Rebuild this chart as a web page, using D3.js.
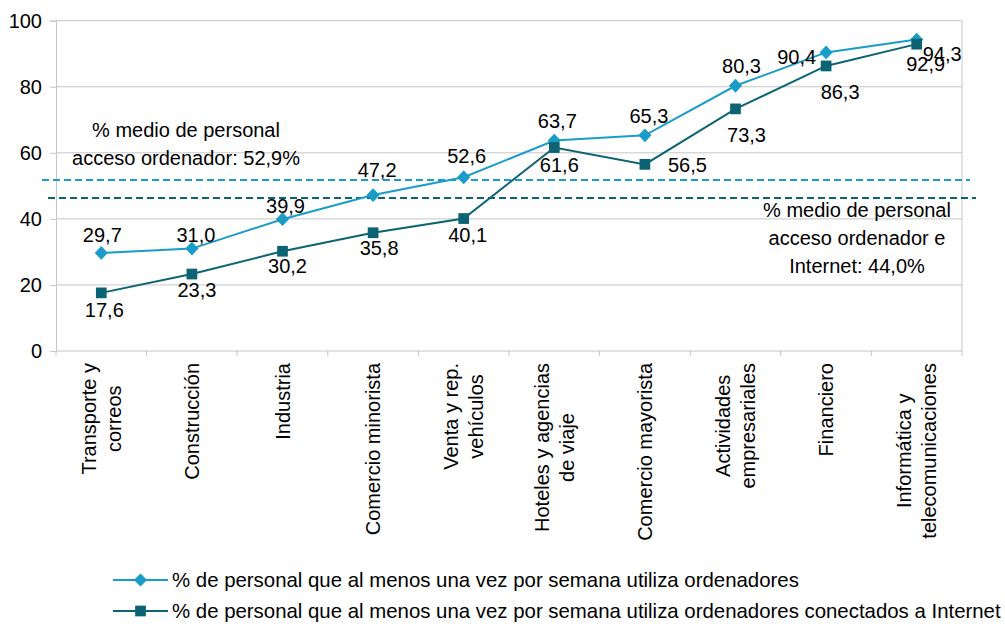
<!DOCTYPE html>
<html>
<head>
<meta charset="utf-8">
<script src="https://cdn.jsdelivr.net/npm/d3@7"></script>
<style>
  html, body { margin: 0; padding: 0; background: #fff; }
  svg { display: block; font-family: "Liberation Sans", Arial, sans-serif; }
</style>
</head>
<body>
<svg id="chart" width="1005" height="626"></svg>
<script>
// ---------- data ----------
const categories = [
  ["Transporte y", "correos"],
  ["Construcción"],
  ["Industria"],
  ["Comercio minorista"],
  ["Venta y rep.", "vehículos"],
  ["Hoteles y agencias", "de viaje"],
  ["Comercio mayorista"],
  ["Actividades", "empresariales"],
  ["Financiero"],
  ["Informática y", "telecomunicaciones"]
];
const seriesNames = [
  "% de personal que al menos una vez por semana utiliza ordenadores",
  "% de personal que al menos una vez por semana utiliza ordenadores conectados a Internet"
];
const computerUse = [29.7, 31.0, 39.9, 47.2, 52.6, 63.7, 65.3, 80.3, 90.4, 94.3];
const internetUse = [17.6, 23.3, 30.2, 35.8, 40.1, 61.6, 56.5, 73.3, 86.3, 92.9];
const yTicks = [0, 20, 40, 60, 80, 100];
const averageLines = [51.8, 46.3];
const averageNotes = [
  ["% medio de personal", "acceso ordenador: 52,9%"],
  ["% medio de personal", "acceso ordenador e", "Internet: 44,0%"]
];

// ---------- layout / style (not data) ----------
const colors = ["#1a9cc9", "#0b6373"];
const fontSize = 20;
const legendFontSize = 20.4;
const plot = { left: 56, right: 962, top: 20.7, bottom: 351 };
// label offsets relative to marker: [dx, dy(baseline), anchor]
const labelOffsets = [
  [[1,-11],[4,-7],[3,-6],[4,-18],[3,-14],[3,-13],[4,-12],[6,-13],[-10,12,"end"],[6,21,"start"]],
  [[3,24],[5,23],[5,22],[6,22],[4,23],[5,24.5],[23,7.6,"start"],[11,33],[14,33],[9,27]]
];
const avgLineExtent = [[42, 970], [48, 976]];
const notePos = [{x: 186, y: 137}, {x: 857, y: 217}];
const noteLineH = [28, 28];

const svg = d3.select("#chart");
const x = d3.scaleBand().domain(d3.range(categories.length)).range([plot.left, plot.right]);
const y = d3.scaleLinear().domain([0, 100]).range([plot.bottom, plot.top]);
const cx = i => x(i) + x.bandwidth() / 2;

// gridlines
svg.append("g").selectAll("line").data(yTicks.filter(t => t > 0)).join("line")
  .attr("x1", plot.left).attr("x2", plot.right)
  .attr("y1", d => y(d)).attr("y2", d => y(d))
  .attr("stroke", "#c6c6c6").attr("stroke-width", 1);
// right border
svg.append("line").attr("x1", plot.right).attr("x2", plot.right)
  .attr("y1", y(100)).attr("y2", plot.bottom).attr("stroke", "#c6c6c6");

// y axis
const yAxis = svg.append("g").attr("transform", `translate(${plot.left},0)`)
  .call(d3.axisLeft(y).tickValues(yTicks).tickSize(6).tickPadding(8).tickFormat(d3.format("d")));
yAxis.select(".domain").attr("stroke", "#c6c6c6");
yAxis.selectAll(".tick line").attr("stroke", "#c6c6c6");
yAxis.selectAll("text").attr("font-size", fontSize).attr("fill", "#000")
  .attr("font-family", "Liberation Sans, Arial, sans-serif");

// x axis (ticks at category boundaries)
const xAxisG = svg.append("g").attr("transform", `translate(0,${plot.bottom})`);
xAxisG.append("line").attr("x1", plot.left).attr("x2", plot.right).attr("stroke", "#c6c6c6");
xAxisG.selectAll("line.tk").data(d3.range(categories.length + 1)).join("line").attr("class", "tk")
  .attr("x1", i => plot.left + i * x.bandwidth()).attr("x2", i => plot.left + i * x.bandwidth())
  .attr("y1", 0).attr("y2", 5).attr("stroke", "#c6c6c6");

// category labels, rotated
const labelTop = 363, lineH = 25;
categories.forEach((lines, i) => {
  const g = svg.append("g");
  const t = g.append("text").attr("font-size", fontSize).attr("text-anchor", "middle").attr("fill", "#000");
  lines.forEach((ln, k) => {
    t.append("tspan").attr("x", 0)
      .attr("y", (k - (lines.length - 1) / 2) * lineH + 0.35 * fontSize)
      .text(ln);
  });
  let maxW = 0;
  t.selectAll("tspan").each(function() { maxW = Math.max(maxW, this.getComputedTextLength()); });
  g.attr("transform", `translate(${cx(i)},${labelTop + maxW / 2}) rotate(-90)`);
});

// average dashed lines
averageLines.forEach((v, k) => {
  svg.append("line")
    .attr("x1", avgLineExtent[k][0]).attr("x2", avgLineExtent[k][1])
    .attr("y1", y(v)).attr("y2", y(v))
    .attr("stroke", colors[k]).attr("stroke-width", 2)
    .attr("stroke-dasharray", "7,4");
});
averageNotes.forEach((lines, k) => {
  const t = svg.append("text").attr("font-size", fontSize).attr("text-anchor", "middle").attr("fill", "#000");
  lines.forEach((ln, j) => {
    t.append("tspan").attr("x", notePos[k].x).attr("y", notePos[k].y + j * noteLineH[k]).text(ln);
  });
});

// series
const allSeries = [computerUse, internetUse];
const diamond = d3.symbol().type(d3.symbolDiamond2).size(110);
const square = d3.symbol().type(d3.symbolSquare).size(115);
const markers = [diamond, square];
const line = d3.line().x((d, i) => cx(i)).y(d => y(d));
const fmt = v => d3.format(".1f")(v).replace(".", ",");

allSeries.forEach((vals, s) => {
  svg.append("path").datum(vals).attr("d", line)
    .attr("fill", "none").attr("stroke", colors[s]).attr("stroke-width", 2);
});
allSeries.forEach((vals, s) => {
  svg.append("g").selectAll("path").data(vals).join("path")
    .attr("d", markers[s])
    .attr("transform", (d, i) => s === 0
      ? `translate(${cx(i)},${y(d)}) scale(1,1.05)`
      : `translate(${cx(i)},${y(d)})`)
    .attr("fill", colors[s]);
});
allSeries.forEach((vals, s) => {
  svg.append("g").selectAll("text").data(vals).join("text")
    .attr("x", (d, i) => cx(i) + labelOffsets[s][i][0])
    .attr("y", (d, i) => y(d) + labelOffsets[s][i][1])
    .attr("text-anchor", (d, i) => labelOffsets[s][i][2] || "middle")
    .attr("font-size", fontSize).attr("fill", "#000")
    .text(d => fmt(d));
});

// legend
const legendY = [580, 611];
seriesNames.forEach((name, s) => {
  const g = svg.append("g").attr("transform", `translate(0,${legendY[s]})`);
  g.append("line").attr("x1", 113).attr("x2", 168).attr("stroke", colors[s]).attr("stroke-width", 2);
  g.append("path").attr("d", markers[s]).attr("transform", "translate(140.5,0)").attr("fill", colors[s]);
  g.append("text").attr("x", 172).attr("y", 0.35 * legendFontSize).attr("font-size", legendFontSize)
    .attr("fill", "#000").text(name);
});
</script>
</body>
</html>
